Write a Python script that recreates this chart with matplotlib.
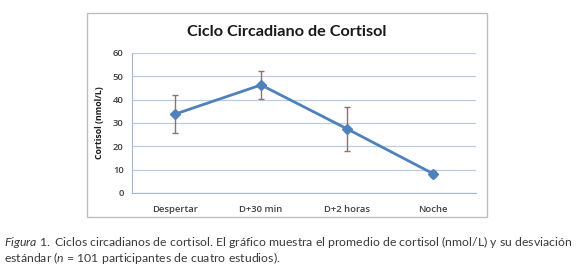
import matplotlib
matplotlib.use("Agg")
import matplotlib.pyplot as plt
from matplotlib.patches import Rectangle

categories = ["Despertar", "D+30 min", "D+2 horas", "Noche"]
cortisol_mean = [33.8, 46.3, 27.5, 8.3]
cortisol_sd = [8.0, 5.8, 9.5, 1.3]
y_ticks = [0, 10, 20, 30, 40, 50, 60]

plt.rcParams['font.family'] = ['Open Sans', 'DejaVu Sans']
plt.rcParams['mathtext.fontset'] = 'custom'
plt.rcParams['mathtext.it'] = 'Lato:italic'
plt.rcParams['mathtext.rm'] = 'Lato'

fig = plt.figure(figsize=(5.8, 2.72), dpi=100)
fig.patch.set_facecolor('white')

# chart frame
fig.patches.append(Rectangle((87/580, 1-217/272), 400/580, 204/272,
                             transform=fig.transFigure, fill=False,
                             edgecolor='#bdbdbd', linewidth=1.0))

ax = fig.add_axes([132/580, 1-193/272, 344/580, 140/272])
x = list(range(len(categories)))
ax.errorbar(x, cortisol_mean, yerr=cortisol_sd, fmt='none',
            ecolor='#8b7370', elinewidth=1.0, capsize=2.5, capthick=1.0, zorder=3)
ax.plot(x, cortisol_mean, color='#4f81bd', linewidth=2, marker='D',
        markersize=5, markerfacecolor='#4f81bd', markeredgecolor='#4f81bd', zorder=4)

ax.set_xlim(-0.5, 3.5)
ax.set_ylim(0, 60)
ax.set_yticks(y_ticks)
ax.set_xticks(x)
ax.set_xticklabels(categories)
ax.grid(axis='y', color='#b9cde5', linewidth=0.9)
ax.set_axisbelow(True)
for s in ['top', 'right']:
    ax.spines[s].set_visible(False)
ax.spines['left'].set_color('#a6b8cc')
ax.spines['bottom'].set_color('#a6b8cc')
ax.tick_params(axis='both', length=0, labelsize=6.8, colors='#404040', pad=6)
ax.tick_params(axis='x', pad=9)
for lbl in ax.get_yticklabels() + ax.get_xticklabels():
    lbl.set_fontweight('semibold')
ax.set_ylabel("Cortisol (nmol/L)", fontsize=6.3, fontweight='bold', color='#1a1a1a', labelpad=6)

fig.text(287/580, 1-32/272, "Ciclo Circadiano de Cortisol", ha='center', va='center',
         fontsize=11.7, fontweight='bold', color='#1a1a1a', family=['Lato', 'DejaVu Sans'])

fig.text(4/580, 1-242/272,
         r"$\mathit{Figura\ 1.}$ Ciclos circadianos de cortisol. El gráfico muestra el promedio de cortisol (nmol/L) y su desviación",
         ha='left', va='center', fontsize=8.85, color='#3a3a3a', family=['Lato', 'DejaVu Sans'])
fig.text(4/580, 1-258/272,
         "estándar ($\\mathit{n}$ = 101 participantes de cuatro estudios).",
         ha='left', va='center', fontsize=8.85, color='#3a3a3a', family=['Lato', 'DejaVu Sans'])

fig.savefig("out.png", dpi=100)
